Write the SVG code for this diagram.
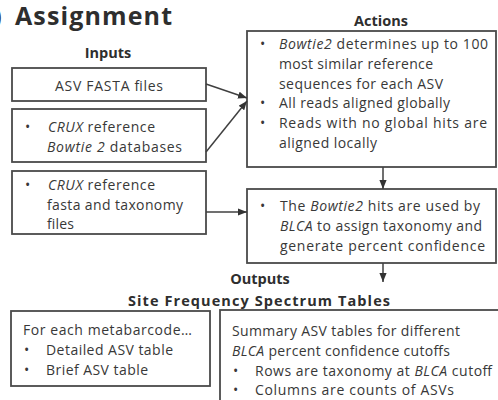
<svg xmlns="http://www.w3.org/2000/svg" width="498" height="400" viewBox="0 0 498 400">
  <style>
    text { font-family: "Open Sans", "Liberation Sans", sans-serif; fill: #383838; font-size: 14px; }
    .title { font-size: 25px; font-weight: bold; fill: #2e2e2e; }
    .head { font-size: 14.5px; font-weight: bold; fill: #2e2e2e; }
    .box { fill: #ffffff; stroke: #4a4a4a; stroke-width: 1.8; }
    .link { fill: none; stroke: #404040; stroke-width: 1.5; }
    .i { font-style: italic; }
  </style>
  <defs>
    <marker id="arrow" viewBox="0 0 10 8" refX="10" refY="4" markerWidth="9" markerHeight="7.2" markerUnits="userSpaceOnUse" orient="auto">
      <path d="M0,0 L10,4 L0,8 Z" fill="#333333"/>
    </marker>
  </defs>

  <rect width="498" height="400" fill="#ffffff"/>

  <!-- headings -->
  <g id="headings">
    <text class="title" x="-6.8" y="25">)</text>
    <text class="title" x="15" y="25" textLength="157">Assignment</text>
    <text class="head" x="108" y="58" text-anchor="middle">Inputs</text>
    <text class="head" x="381" y="26" text-anchor="middle">Actions</text>
    <text class="head" x="260" y="284" text-anchor="middle">Outputs</text>
    <text class="head" x="259" y="306" text-anchor="middle" textLength="262">Site Frequency Spectrum Tables</text>
  </g>

  <!-- inputs -->
  <g id="input-fasta">
    <rect class="box" x="12" y="68" width="194" height="33"/>
    <text x="109" y="91" text-anchor="middle" textLength="108">ASV FASTA files</text>
  </g>
  <g id="input-bowtie-db">
    <rect class="box" x="12" y="109" width="194" height="53"/>
    <text x="25" y="132">•</text>
    <text x="48" y="132" textLength="107"><tspan class="i">CRUX</tspan> reference</text>
    <text x="47" y="152" textLength="135"><tspan class="i">Bowtie 2</tspan> databases</text>
  </g>
  <g id="input-taxonomy">
    <rect class="box" x="12" y="171" width="194" height="63"/>
    <text x="25" y="190">•</text>
    <text x="48" y="190" textLength="107"><tspan class="i">CRUX</tspan> reference</text>
    <text x="47" y="210" textLength="136">fasta and taxonomy</text>
    <text x="47" y="229" textLength="27">files</text>
  </g>

  <!-- actions -->
  <g id="action-align">
    <rect class="box" x="247" y="31" width="249" height="136"/>
    <text x="260" y="49">•</text>
    <text x="279" y="49" textLength="209"><tspan class="i">Bowtie2</tspan> determines up to 100</text>
    <text x="279" y="69" textLength="154">most similar reference</text>
    <text x="279" y="89" textLength="164">sequences for each ASV</text>
    <text x="260" y="108">•</text>
    <text x="279" y="108" textLength="171">All reads aligned globally</text>
    <text x="260" y="128">•</text>
    <text x="279" y="128" textLength="208">Reads with no global hits are</text>
    <text x="279" y="148" textLength="98">aligned locally</text>
  </g>
  <g id="action-blca">
    <rect class="box" x="247" y="189" width="249" height="74"/>
    <text x="260" y="211">•</text>
    <text x="280" y="211" textLength="200">The <tspan class="i">Bowtie2</tspan> hits are used by</text>
    <text x="280" y="231" textLength="202"><tspan class="i">BLCA</tspan> to assign taxonomy and</text>
    <text x="280" y="251" textLength="205">generate percent confidence</text>
  </g>

  <!-- outputs -->
  <g id="output-per-metabarcode">
    <rect class="box" x="11" y="311" width="199" height="75"/>
    <text x="23" y="335" textLength="169">For each metabarcode…</text>
    <text x="24" y="355">•</text>
    <text x="46" y="355" textLength="127">Detailed ASV table</text>
    <text x="24" y="375">•</text>
    <text x="46" y="375" textLength="102">Brief ASV table</text>
  </g>
  <g id="output-summary">
    <rect class="box" x="220" y="310" width="290" height="100"/>
    <text x="232" y="336" textLength="228">Summary ASV tables for different</text>
    <text x="232" y="356" textLength="218"><tspan class="i">BLCA</tspan> percent confidence cutoffs</text>
    <text x="233" y="376">•</text>
    <text x="255" y="376" textLength="237">Rows are taxonomy at <tspan class="i">BLCA</tspan> cutoff</text>
    <text x="233" y="395">•</text>
    <text x="255" y="395" textLength="199">Columns are counts of ASVs</text>
  </g>

  <!-- connectors -->
  <g id="connectors">
    <line class="link" x1="206" y1="84" x2="247" y2="98" marker-end="url(#arrow)"/>
    <line class="link" x1="206" y1="152" x2="247" y2="101" marker-end="url(#arrow)"/>
    <line class="link" x1="206" y1="212" x2="247" y2="212" marker-end="url(#arrow)"/>
    <line class="link" x1="383" y1="167" x2="383" y2="189" marker-end="url(#arrow)"/>
    <line class="link" x1="383" y1="263" x2="383" y2="282" marker-end="url(#arrow)"/>
  </g>
</svg>
